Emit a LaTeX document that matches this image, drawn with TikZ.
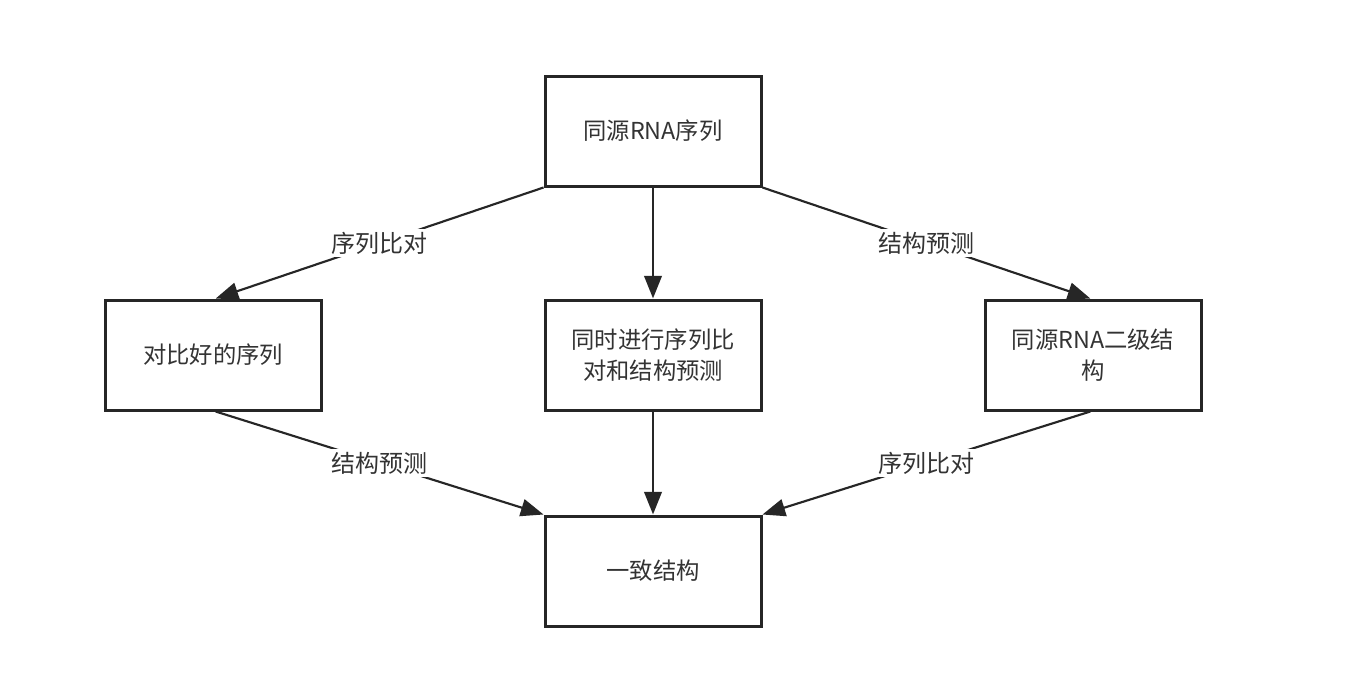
\documentclass[tikz,border=0pt]{standalone}
\usepackage{fontspec}
\setmainfont{Noto Sans CJK SC}
\usetikzlibrary{arrows.meta}
\definecolor{ink}{HTML}{262626}
\definecolor{txt}{HTML}{333333}
\begin{document}
\begin{tikzpicture}[x=0.75pt,y=-0.75pt,
  box/.style={draw=ink,line width=2.25pt,minimum width=162pt,minimum height=82.5pt,inner sep=2pt,align=center,text=txt,font=\fontsize{17.5pt}{23pt}\selectfont},
  arr/.style={draw=ink,line width=1.6pt,-{Triangle[length=17pt,width=13pt]}},
  varr/.style={arr,line width=2.2pt},
  lbl/.style={fill=white,text=txt,inner sep=2pt,font=\fontsize{18pt}{21pt}\selectfont}]
\useasboundingbox[fill=white] (0,0) rectangle (1352,694);
\node[box] (top) at (653,131) {同源RNA序列};
\node[box] (left) at (213,355) {对比好的序列};
\node[box] (mid) at (653,355) {同时进行序列比\\对和结构预测};
\node[box] (right) at (1093,355) {同源RNA二级结\\构};
\node[box] (bot) at (653,571) {一致结构};
\coordinate (lt) at ([xshift=2pt]left.north);
\coordinate (rt) at ([xshift=-2pt]right.north);
\coordinate (lb) at ([xshift=2pt]left.south);
\coordinate (rb) at ([xshift=-2pt]right.south);
\draw[arr] (top.south west) -- (lt) node[midway,lbl] {序列比对};
\draw[varr] (top.south) -- (mid.north);
\draw[arr] (top.south east) -- (rt) node[midway,lbl] {结构预测};
\draw[arr] (lb) -- (bot.north west) node[midway,lbl] {结构预测};
\draw[varr] (mid.south) -- (bot.north);
\draw[arr] (rb) -- (bot.north east) node[midway,lbl] {序列比对};
\end{tikzpicture}
\end{document}
